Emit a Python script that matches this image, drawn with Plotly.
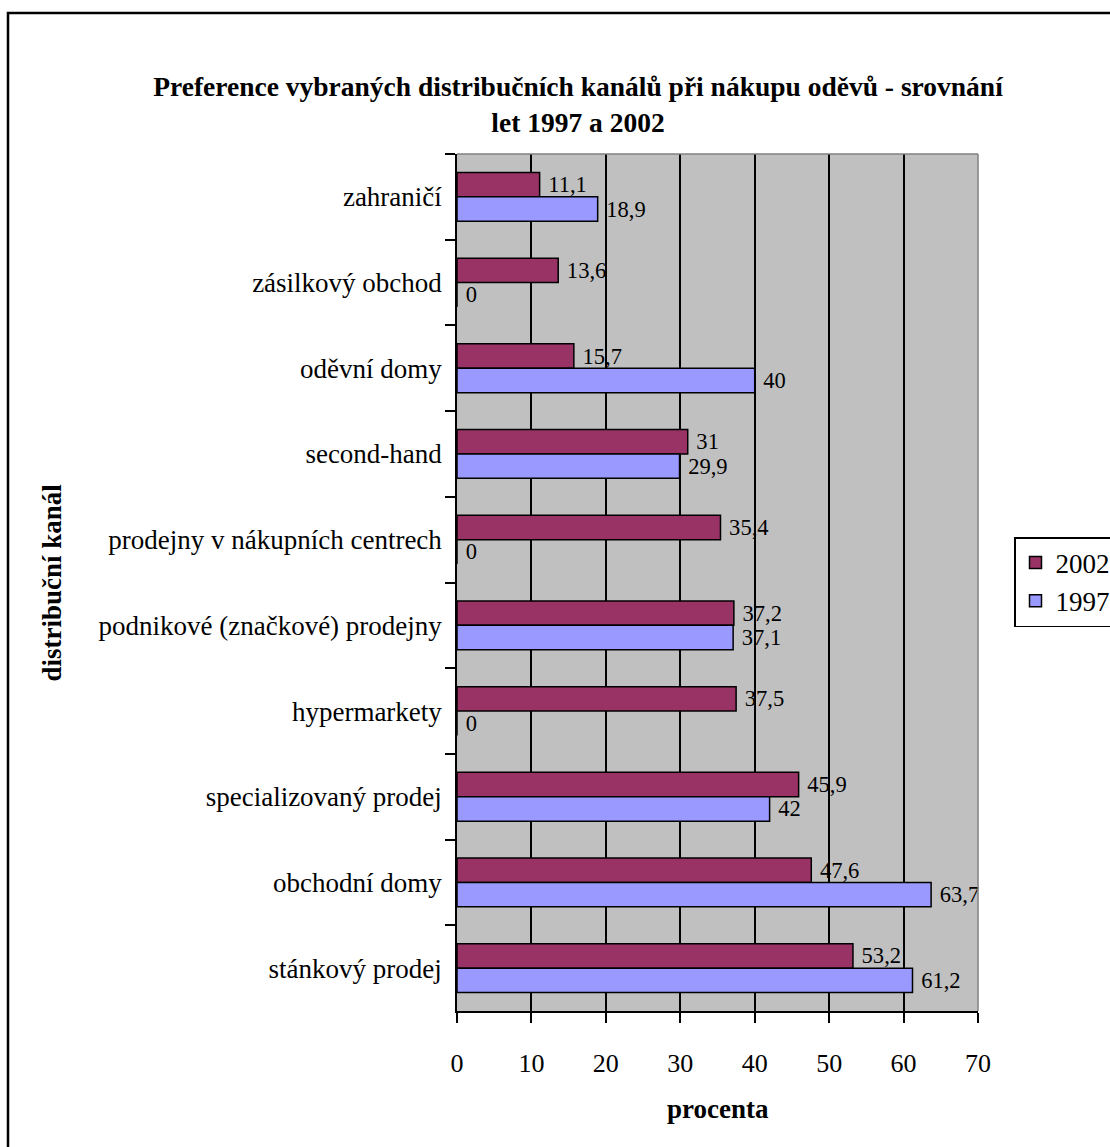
import plotly.graph_objects as go

categories = [
    "zahraničí",
    "zásilkový obchod",
    "oděvní domy",
    "second-hand",
    "prodejny v nákupních centrech",
    "podnikové (značkové) prodejny",
    "hypermarkety",
    "specializovaný prodej",
    "obchodní domy",
    "stánkový prodej",
]
values_2002 = [11.1, 13.6, 15.7, 31, 35.4, 37.2, 37.5, 45.9, 47.6, 53.2]
values_1997 = [18.9, 0, 40, 29.9, 0, 37.1, 0, 42, 63.7, 61.2]
x_ticks = [0, 10, 20, 30, 40, 50, 60, 70]

FONT = "Liberation Serif, Times New Roman, serif"


def fmt(v):
    return "\u00a0" + f"{v:g}".replace(".", ",")


W, H = 1110, 1147
L, R, T, B = 457, 132, 154, 136
PW, PH = W - L - R, H - T - B


def px_x(p):
    return (p - L) / PW


def px_y(p):
    return (H - B - p) / PH


fig = go.Figure()
fig.add_trace(go.Bar(
    name="2002", y=categories, x=values_2002, orientation="h",
    marker=dict(color="#993366", line=dict(color="black", width=1.5)),
    text=[fmt(v) for v in values_2002], textposition="outside",
    textfont=dict(family=FONT, size=24, color="black"),
    cliponaxis=False,
))
fig.add_trace(go.Bar(
    name="1997", y=categories, x=values_1997, orientation="h",
    marker=dict(color="#9999FF", line=dict(color="black", width=1.5)),
    text=[fmt(v) for v in values_1997], textposition="outside",
    textfont=dict(family=FONT, size=24, color="black"),
    cliponaxis=False,
))

fig.update_layout(
    width=W, height=H,
    margin=dict(l=L, r=R, t=T, b=B, autoexpand=False),
    paper_bgcolor="white",
    plot_bgcolor="#C0C0C0",
    barmode="group",
    bargap=0.43,
    bargroupgap=0,
    font=dict(family=FONT, color="black"),
    title=dict(
        text="Preference vybraných distribučních kanálů při nákupu oděvů - srovnání<br>let 1997 a 2002",
        font=dict(family=FONT, size=27.5, color="black", weight="bold"),
        x=578 / W, xanchor="center", xref="container",
        y=1 - 96 / H, yanchor="middle", yref="container",
    ),
    xaxis=dict(
        range=[0, 70], tickvals=x_ticks, ticktext=[str(t) for t in x_ticks],
        showgrid=True, gridcolor="black", gridwidth=1.5,
        showline=True, linecolor="black", linewidth=1.5,
        ticks="outside", ticklen=10, tickwidth=1.5, tickcolor="black",
        tickfont=dict(family=FONT, size=26, color="black"),
        ticklabelstandoff=18,
        zeroline=False, fixedrange=True,
    ),
    yaxis=dict(
        categoryorder="array", categoryarray=categories,
        autorange="reversed",
        showgrid=False,
        showline=True, linecolor="black", linewidth=1.5,
        ticks="outside", ticklen=10, tickwidth=1.5, tickcolor="black",
        tickson="boundaries",
        tickfont=dict(family=FONT, size=27, color="black"),
        ticklabelstandoff=8,
        fixedrange=True,
    ),
    legend=dict(
        x=px_x(1014), y=px_y(537), xanchor="left", yanchor="top",
        bgcolor="white", bordercolor="black", borderwidth=1.5,
        font=dict(family=FONT, size=27, color="black"),
        traceorder="normal",
    ),
    showlegend=True,
    annotations=[
        dict(text="procenta", x=0.5, y=px_y(1109), xref="paper", yref="paper",
             xanchor="center", yanchor="middle", showarrow=False,
             font=dict(family=FONT, size=27, color="black", weight="bold")),
        dict(text="distribuční kanál", x=px_x(51), y=0.5, xref="paper", yref="paper",
             xanchor="center", yanchor="middle", showarrow=False, textangle=-90,
             font=dict(family=FONT, size=27, color="black", weight="bold")),
    ],
    shapes=[
        dict(type="rect", xref="paper", yref="paper",
             x0=px_x(8), x1=px_x(1130), y0=px_y(1170), y1=px_y(13),
             line=dict(color="black", width=2.5), fillcolor="rgba(0,0,0,0)",
             layer="below"),
        dict(type="line", xref="paper", yref="paper",
             x0=0, x1=1, y0=1, y1=1,
             line=dict(color="#808080", width=1.5), layer="above"),
        dict(type="line", xref="paper", yref="paper",
             x0=1, x1=1, y0=0, y1=1,
             line=dict(color="#808080", width=1.5), layer="above"),
    ],
)

fig.write_html("out.html")
